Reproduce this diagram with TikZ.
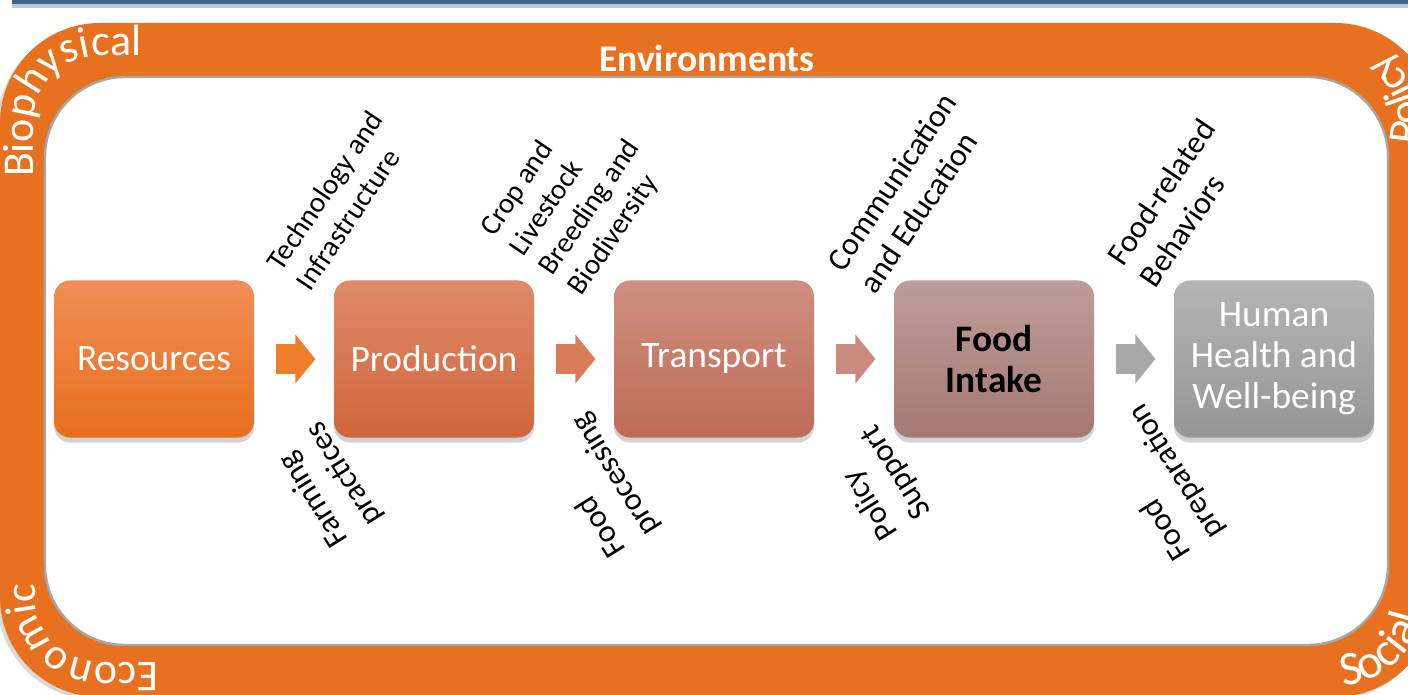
\documentclass[tikz,border=0pt]{standalone}
\usepackage{fontspec}
\setmainfont{Carlito}
\usetikzlibrary{positioning,calc,shadows,arrows.meta,decorations.text}

\definecolor{ringorange}{HTML}{E8711F}
\definecolor{barblue}{HTML}{42618D}
\definecolor{resTop}{HTML}{F18E57}
\definecolor{resBot}{HTML}{E86E1C}
\definecolor{prodTop}{HTML}{DF8A6A}
\definecolor{prodBot}{HTML}{D0663B}
\definecolor{transTop}{HTML}{CF8F80}
\definecolor{transBot}{HTML}{BD6B58}
\definecolor{foodTop}{HTML}{BD9D99}
\definecolor{foodBot}{HTML}{A57873}
\definecolor{humTop}{HTML}{B4B4B4}
\definecolor{humBot}{HTML}{969696}
\definecolor{arrA}{HTML}{F07D2C}
\definecolor{arrB}{HTML}{DB7C58}
\definecolor{arrC}{HTML}{C98A80}
\definecolor{arrD}{HTML}{A8A8A8}

\newcommand\lblfont{\fontsize{16pt}{19.6pt}\selectfont}
\newcommand\smlblfont{\fontsize{14.5pt}{17.6pt}\selectfont}
\newcommand\boxfont{\fontsize{18.7pt}{20.5pt}\selectfont}
\newcommand\cornerfont{\fontsize{22pt}{26pt}\selectfont}

\begin{document}
\begin{tikzpicture}[x=0.5pt, y=0.5pt, semithick, every node/.style={node distance=140pt}]
    \tikzset{stage/.style={rounded corners=8pt, minimum width=100pt, minimum height=78.5pt, inner sep=2pt, align=center, font=\boxfont, text=white,
        drop shadow={opacity=.35, shadow xshift=0pt, shadow yshift=-2.5pt}}};
    \tikzset{flow/.style={line width=15pt, -{Triangle[length=10pt,width=24pt]}, shorten <=10.5pt, shorten >=9pt}};
    \tikzset{uplbl/.style={rotate=56, anchor=south west, align=left, inner sep=0pt, font=\lblfont}};
    \tikzset{lowlbl/.style={rotate=122, anchor=north west, align=left, inner sep=0pt, font=\lblfont}};
    \tikzset{ringword/.style={decorate, decoration={text along path, text color=white, text align=left}}};
    \useasboundingbox (0,0) rectangle (1408,-695);

    % frame
    \fill[barblue] (12,0) rectangle (1408,-4);
    \fill[barblue!35] (12,-4) rectangle (1408,-8);
    \fill[ringorange, rounded corners=50pt, drop shadow={opacity=.3, shadow xshift=-1.5pt, shadow yshift=-1.5pt}] (0,-23) rectangle (1435,-697);
    \filldraw[fill=white, draw=black!35, line width=1.2pt, rounded corners=40pt] (45,-77) rectangle (1388,-645);

    \node[font=\fontsize{18.8pt}{22pt}\selectfont\bfseries, text=white] (tEnv) at (707,-58) {Environments};

    % words round the ring
    \path[ringword, decoration={text={|\cornerfont|Biophysical}}]
        (33,-177) -- (33,-123) arc[start angle=180, end angle=90, radius=33.5pt] -- (320,-56);
    \path[ringword, decoration={text={|\cornerfont|Economic}}]
        (158,-662) -- (100,-662) arc[start angle=270, end angle=180, radius=32.5pt] -- (35,-420);
    \path[ringword, decoration={text={|\fontsize{24pt}{28pt}\selectfont|Social}}]
        (1343,-686) arc[start angle=-85, end angle=0, radius=44.5pt] -- (1424,-420);
    \path[ringword, decoration={text={|\cornerfont|Policy}}]
        (1417.1,-145) arc[start angle=-15, end angle=90, radius=42.5pt] -- (1100,-38);

    % stages
    \node[stage, top color=resTop, bottom color=resBot] (sRes) at (154,-359) {Resources};
    \node[stage, top color=prodTop, bottom color=prodBot, right of=sRes] (sProd) {Production};
    \node[stage, top color=transTop, bottom color=transBot, right of=sProd] (sTrans) {Transport};
    \node[stage, top color=foodTop, bottom color=foodBot, right of=sTrans, text=black, font=\boxfont\bfseries] (sFood) {Food\\Intake};
    \node[stage, top color=humTop, bottom color=humBot, right of=sFood] (sHum) {Human\\Health and\\Well-being};
    {
      \path
        (sRes) edge[flow, draw=arrA] (sProd)
        (sProd) edge[flow, draw=arrB] (sTrans)
        (sTrans) edge[flow, draw=arrC] (sFood)
        (sFood) edge[flow, draw=arrD] (sHum)
        ;
      }

    % drivers above and below the arrows
    \node[uplbl, font=\smlblfont] (lTech) at (311,-293) {Technology and\\Infrastructure};
    \node[uplbl, font=\smlblfont] (lCrop) at (586,-300) {Crop and\\Livestock\\Breeding and\\Biodiversity};
    \node[uplbl] (lComm) at (876,-296) {Communication\\and Education};
    \node[uplbl] (lBeh) at (1156,-290) {Food-related\\Behaviors};
    \node[lowlbl] (lFarm) at (330,-552) {Farming\\practices};
    \node[lowlbl] (lProc) at (607,-562) {Food\\processing};
    \node[lowlbl] (lPol) at (879,-545) {Policy\\Support};
    \node[lowlbl] (lPrep) at (1172,-565) {Food\\preparation};
\end{tikzpicture}
\end{document}
